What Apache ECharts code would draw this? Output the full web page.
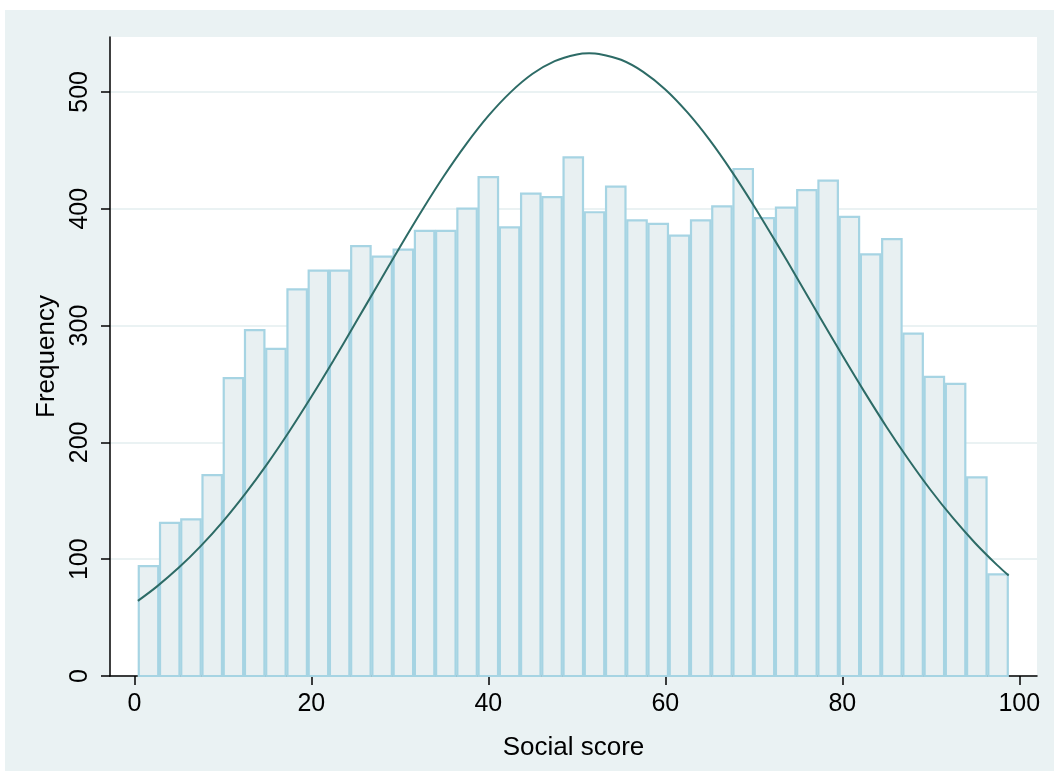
<!DOCTYPE html>
<html>
<head>
<meta charset="utf-8">
<script src="https://cdn.jsdelivr.net/npm/echarts@6/dist/echarts.min.js"></script>
<style>
html,body{margin:0;padding:0;background:#ffffff;}
#chart{width:1054px;height:771px;}
</style>
</head>
<body>
<div id="chart"></div>
<script>
// Histogram: bin layout and counts
const binStart = 0.4;
const binWidth = 2.4;
const counts = [94, 131, 134, 172, 255, 296, 280, 331, 347, 347,
                368, 359, 365, 381, 381, 400, 427, 384, 413, 410,
                444, 397, 419, 390, 387, 377, 390, 402, 434, 392,
                401, 416, 424, 393, 361, 374, 293, 256, 250, 170, 87];

// Overlaid normal curve
const curveX = [0.4, 2.5, 5, 7.5, 10, 12.5, 15, 17.5, 20, 22.5, 25, 27.5, 30, 32.5, 35, 37.5, 40, 42.5, 45, 47.5,
                50, 51.4, 52.5, 55, 57.5, 60, 62.5, 65, 67.5, 70, 72.5, 75, 77.5, 80, 82.5, 85, 87.5, 90, 92.5, 95, 97.5, 98.8];
const curveY = [64.3, 76.3, 92.6, 111.2, 132.2, 155.7, 181.4, 209.3, 239.0, 270.1, 302.3, 334.8, 367.1, 398.5, 428.2,
                455.3, 479.4, 499.6, 515.5, 526.4, 532.1, 533.0, 532.5, 527.5, 517.2, 502.1, 482.4, 458.9, 432.0, 402.6,
                371.4, 339.3, 306.7, 274.5, 243.2, 213.2, 185.1, 159.0, 135.3, 113.9, 94.9, 86.0];

// Axis ticks
const xTicks = [0, 20, 40, 60, 80, 100];
const yTicks = [0, 100, 200, 300, 400, 500];

const xTitle = 'Social score';
const yTitle = 'Frequency';

const FONT = '"Liberation Sans", Arial, Helvetica, sans-serif';

const histData = counts.map((c, i) => [binStart + i * binWidth, binStart + (i + 1) * binWidth, c]);
const curveData = curveX.map((x, i) => [x, curveY[i]]);

const chart = echarts.init(document.getElementById('chart'), null, {renderer: 'canvas'});

chart.setOption({
  animation: false,
  backgroundColor: '#ffffff',
  graphic: [{
    type: 'rect', z: -10, silent: true,
    shape: {x: 5, y: 10, width: 1049, height: 761},
    style: {fill: '#eaf2f3'}
  }],
  grid: {
    left: 110, right: 17, top: 37, bottom: 95,
    show: true, backgroundColor: '#ffffff', borderWidth: 0
  },
  xAxis: {
    type: 'value',
    min: -2.75, max: 102,
    name: xTitle,
    nameLocation: 'middle',
    nameGap: 59,
    nameTextStyle: {fontFamily: FONT, fontSize: 26, color: '#000'},
    axisLine: {show: true, onZero: false, lineStyle: {color: '#000', width: 1.5}},
    axisTick: {show: true, length: 9, lineStyle: {color: '#000', width: 1.5}, customValues: xTicks},
    axisLabel: {fontFamily: FONT, fontSize: 25, color: '#000', margin: 16, customValues: xTicks},
    splitLine: {show: false}
  },
  yAxis: {
    type: 'value',
    min: 0, max: 547, interval: 100,
    name: yTitle,
    nameLocation: 'middle',
    nameGap: 43,
    nameRotate: 90,
    nameTextStyle: {fontFamily: FONT, fontSize: 26, color: '#000'},
    axisLine: {show: true, onZero: false, lineStyle: {color: '#000', width: 1.5}},
    axisTick: {show: true, length: 9, lineStyle: {color: '#000', width: 1.5}, customValues: yTicks},
    axisLabel: {fontFamily: FONT, fontSize: 25, color: '#000', margin: 17, rotate: 90, customValues: yTicks},
    splitLine: {show: true, lineStyle: {color: '#eaf2f3', width: 2}}
  },
  series: [
    {
      type: 'custom',
      data: histData,
      encode: {x: [0, 1], y: 2},
      renderItem: function (params, api) {
        const p0 = api.coord([api.value(0), api.value(2)]);
        const p1 = api.coord([api.value(1), 0]);
        const inset = 0.9;
        return {
          type: 'rect',
          shape: {x: p0[0] + inset, y: p0[1], width: (p1[0] - p0[0]) - 2 * inset, height: p1[1] - p0[1]},
          style: {fill: '#e8f0f2', stroke: '#a6d4e3', lineWidth: 2.2}
        };
      },
      z: 2
    },
    {
      type: 'line',
      data: curveData,
      smooth: 0.3,
      showSymbol: false,
      lineStyle: {color: '#2d6b66', width: 2},
      z: 3
    }
  ]
});
</script>
</body>
</html>
